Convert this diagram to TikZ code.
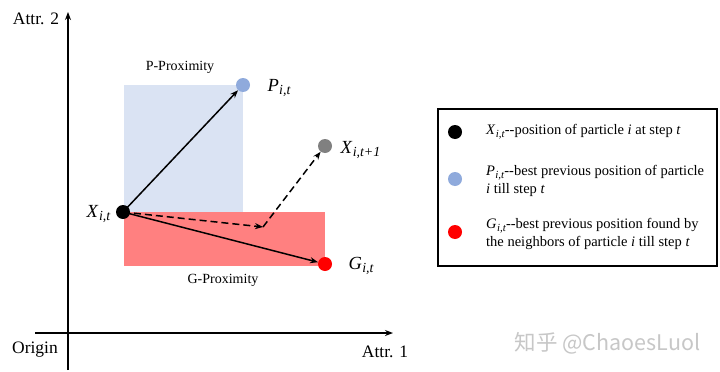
\documentclass[tikz,border=0pt]{standalone}
\usepackage{fontspec}
\setmainfont{Liberation Serif}
\newfontfamily\cjk{Noto Sans CJK SC}
\usetikzlibrary{arrows.meta}
\definecolor{pblue}{RGB}{218,227,243}
\definecolor{gred}{RGB}{255,128,128}
\definecolor{pdot}{RGB}{143,170,220}
\definecolor{gdot}{RGB}{255,0,0}
\definecolor{xdot}{RGB}{128,128,128}
\newcommand\pvar[2]{\textit{#1}\raisebox{-0.4ex}{\scalebox{0.75}{\kern0.5pt\textit{#2}}}}
\begin{document}
\begin{tikzpicture}[x=1pt,y=-1pt,
  dot/.style={circle,inner sep=0pt,minimum size=14pt},
  axis/.style={line width=1.6pt,-{Stealth[length=8pt,width=6pt]}},
  vec/.style={line width=1.5pt,-{Stealth[length=8pt,width=6pt]}},
  dvec/.style={line width=1.5pt,dash pattern=on 7pt off 4pt,-{Stealth[length=8pt,width=6pt]}},
  lbl/.style={font=\fontsize{17.5}{20}\selectfont},
  ptl/.style={font=\fontsize{18.5}{20}\selectfont},
  small/.style={font=\fontsize{14}{16}\selectfont},
  leg/.style={font=\fontsize{14.5}{17.5}\selectfont,align=left,anchor=west,inner sep=0pt}]
\useasboundingbox[fill=white] (0,0) rectangle (720,372);
% regions
\fill[pblue] (124,85) rectangle (243,212);
\fill[gred] (124,212) rectangle (325,266);
% axes
\coordinate (yb) at (68,370);
\coordinate (yt) at (68,12);
\coordinate (xl) at (35,333);
\coordinate (xr) at (393,333);
\draw[axis] (yb) -- (yt);
\draw[axis] (xl) -- (xr);
\node[lbl] (a2) at (36,19) {Attr. 2};
\node[lbl] (a1) at (385,352) {Attr. 1};
\node[lbl] (org) at (35,350) {Origin};
% points
\node[dot,fill=black] (X) at (123,212) {};
\node[dot,fill=pdot] (P) at (243,85) {};
\node[dot,fill=gdot] (G) at (325,264) {};
\node[dot,fill=xdot] (X1) at (325,146) {};
\coordinate (C) at (263,227);
% vectors
\draw[vec] (X.center) -- (P);
\draw[vec] (X.center) -- (G);
\draw[dvec] (X.center) -- (C);
\draw[dvec] (C) -- (X1);
% labels
\node[ptl,anchor=east] (Xl) at (114,214) {\pvar{X}{i,t}};
\node[ptl,anchor=west] (Pl) at (264,88) {\pvar{P}{i,t}};
\node[ptl,anchor=west] (X1l) at (337,150) {\pvar{X}{i,t+1}};
\node[ptl,anchor=west] (Gl) at (345,266) {\pvar{G}{i,t}};
\node[small] (pp) at (180,67) {P-Proximity};
\node[small] (gp) at (223,280) {G-Proximity};
% legend
\draw[line width=1.1pt] (438,109) rectangle (717,266);
\node[dot,fill=black] (L1) at (455,132) {};
\node[dot,fill=pdot] (L2) at (455,179) {};
\node[dot,fill=gdot] (L3) at (455,232) {};
\node[leg] (T1) at (486,132) {\pvar{X}{i,t}-{}-position of particle \textit{i} at step \textit{t}};
\node[leg] (T2) at (486,181) {\pvar{P}{i,t}-{}-best previous position of particle\\\textit{i} till step \textit{t}};
\node[leg] (T3) at (486,234) {\pvar{G}{i,t}-{}-best previous position found by\\the neighbors of particle \textit{i} till step \textit{t}};
% watermark
\node[font=\cjk\fontsize{21.5}{24}\selectfont,text=black!22,anchor=west] (wm) at (511,343) {知乎 @ChaoesLuol};
\end{tikzpicture}
\end{document}
